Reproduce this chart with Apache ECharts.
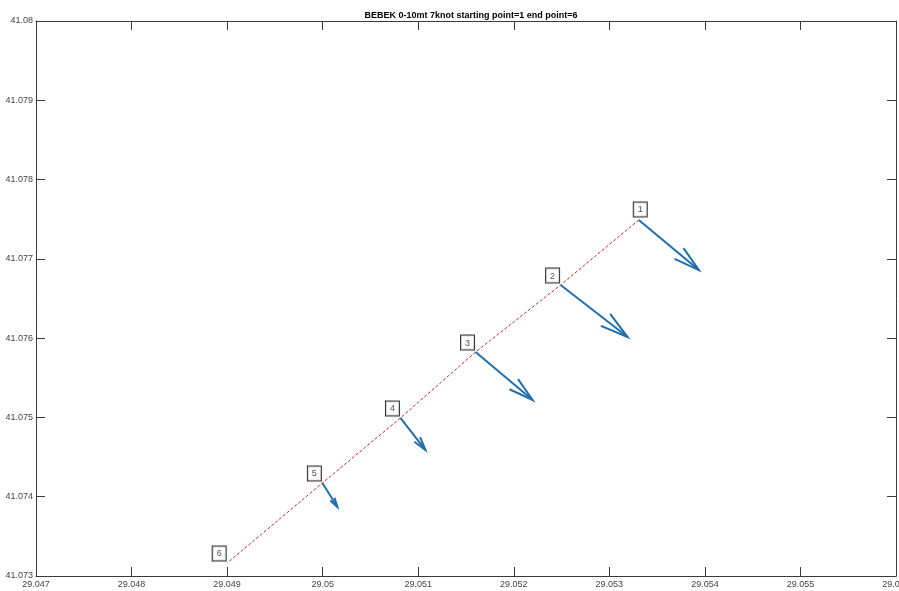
<!DOCTYPE html>
<html>
<head>
<meta charset="utf-8">
<script src="https://cdn.jsdelivr.net/npm/echarts@6/dist/echarts.min.js"></script>
<style>html,body{margin:0;padding:0;background:#fff;}#c{width:899px;height:591px;}</style>
</head>
<body>
<div id="c"></div>
<script>
// Data
const pointLabels = ['1', '2', '3', '4', '5', '6'];
const lon = [29.053308, 29.052490, 29.051600, 29.050814, 29.049997, 29.049001];
const lat = [41.077490, 41.076670, 41.075825, 41.074993, 41.074173, 41.073164];
const uComp = [0.000629, 0.000702, 0.000597, 0.000262, 0.000157, 0];
const vComp = [-0.000631, -0.000656, -0.000605, -0.000404, -0.000303, 0];
const titleText = 'BEBEK 0-10mt 7knot starting point=1 end point=6';

const FONT = "'Liberation Sans Narrow', 'Liberation Sans', Arial, sans-serif";
const fmt = v => String(parseFloat(Number(v).toFixed(3)));

const track = lon.map((x, i) => [x, lat[i]]);
const arrows = lon.map((x, i) => [x, lat[i], uComp[i], vComp[i]]);

const chart = echarts.init(document.getElementById('c'), null, {renderer: 'canvas'});

const axisLineStyle = {color: '#3a3a3a', width: 1};
const baseTick = {show: true, inside: true, length: 9, lineStyle: {color: '#3a3a3a', width: 1}};

chart.setOption({
  animation: false,
  backgroundColor: '#ffffff',
  title: {
    text: titleText, left: 466, top: 6, textAlign: 'center',
    textStyle: {fontFamily: FONT, fontSize: 9, fontWeight: 'bold', color: '#000'}
  },
  grid: {left: 36, right: 3, top: 21, bottom: 15, containLabel: false, outerBoundsMode: 'none'},
  xAxis: [
    {type: 'value', min: 29.047, max: 29.056, interval: 0.001, position: 'bottom',
     axisLine: {show: true, lineStyle: axisLineStyle}, axisTick: baseTick, splitLine: {show: false},
     axisLabel: {formatter: fmt, fontFamily: FONT, fontSize: 9, color: '#444', margin: 4, hideOverlap: false}},
    {type: 'value', min: 29.047, max: 29.056, interval: 0.001, position: 'top',
     axisLine: {show: true, lineStyle: axisLineStyle}, axisTick: baseTick, splitLine: {show: false},
     axisLabel: {show: false}}
  ],
  yAxis: [
    {type: 'value', min: 41.073, max: 41.080, interval: 0.001, position: 'left',
     axisLine: {show: true, lineStyle: axisLineStyle}, axisTick: baseTick, splitLine: {show: false},
     axisLabel: {formatter: fmt, fontFamily: FONT, fontSize: 9, color: '#444', margin: 3}},
    {type: 'value', min: 41.073, max: 41.080, interval: 0.001, position: 'right',
     axisLine: {show: true, lineStyle: axisLineStyle}, axisTick: baseTick, splitLine: {show: false},
     axisLabel: {show: false}}
  ],
  series: [
    {
      type: 'line', data: track, showSymbol: false, symbol: 'none',
      lineStyle: {color: '#e02020', width: 1, type: [3, 2]}, z: 2
    },
    {
      type: 'custom', data: arrows, z: 3,
      renderItem: function (params, api) {
        const x = api.value(0), y = api.value(1), u = api.value(2), v = api.value(3);
        if (!u && !v) return null;
        const p0 = api.coord([x, y]);
        const p1 = api.coord([x + u, y + v]);
        const dx = p1[0] - p0[0], dy = p1[1] - p0[1];
        const a = 0.33, b = 0.27;
        const h1 = [p1[0] - a * (dx + b * dy), p1[1] - a * (dy - b * dx)];
        const h2 = [p1[0] - a * (dx - b * dy), p1[1] - a * (dy + b * dx)];
        const st = {stroke: '#1f6fae', lineWidth: 2, fill: null};
        return {
          type: 'group',
          children: [
            {type: 'line', shape: {x1: p0[0], y1: p0[1], x2: p1[0], y2: p1[1]}, style: st},
            {type: 'polyline', shape: {points: [h1, p1, h2]}, style: st}
          ]
        };
      }
    },
    {
      type: 'scatter', symbolSize: 1, z: 4,
      itemStyle: {color: 'rgba(0,0,0,0)'},
      data: track.map((p, i) => ({
        value: p,
        label: {
          show: true, formatter: pointLabels[i],
          position: [0, 0], align: i === 0 ? 'center' : 'right', verticalAlign: 'bottom',
          offset: i === 0 ? [2, -3] : [-1, -2],
          backgroundColor: '#fff', borderColor: '#000', borderWidth: 1,
          padding: [3, 4, 2, 4], fontFamily: FONT, fontSize: 9, color: '#222'
        }
      }))
    }
  ]
});
</script>
</body>
</html>
